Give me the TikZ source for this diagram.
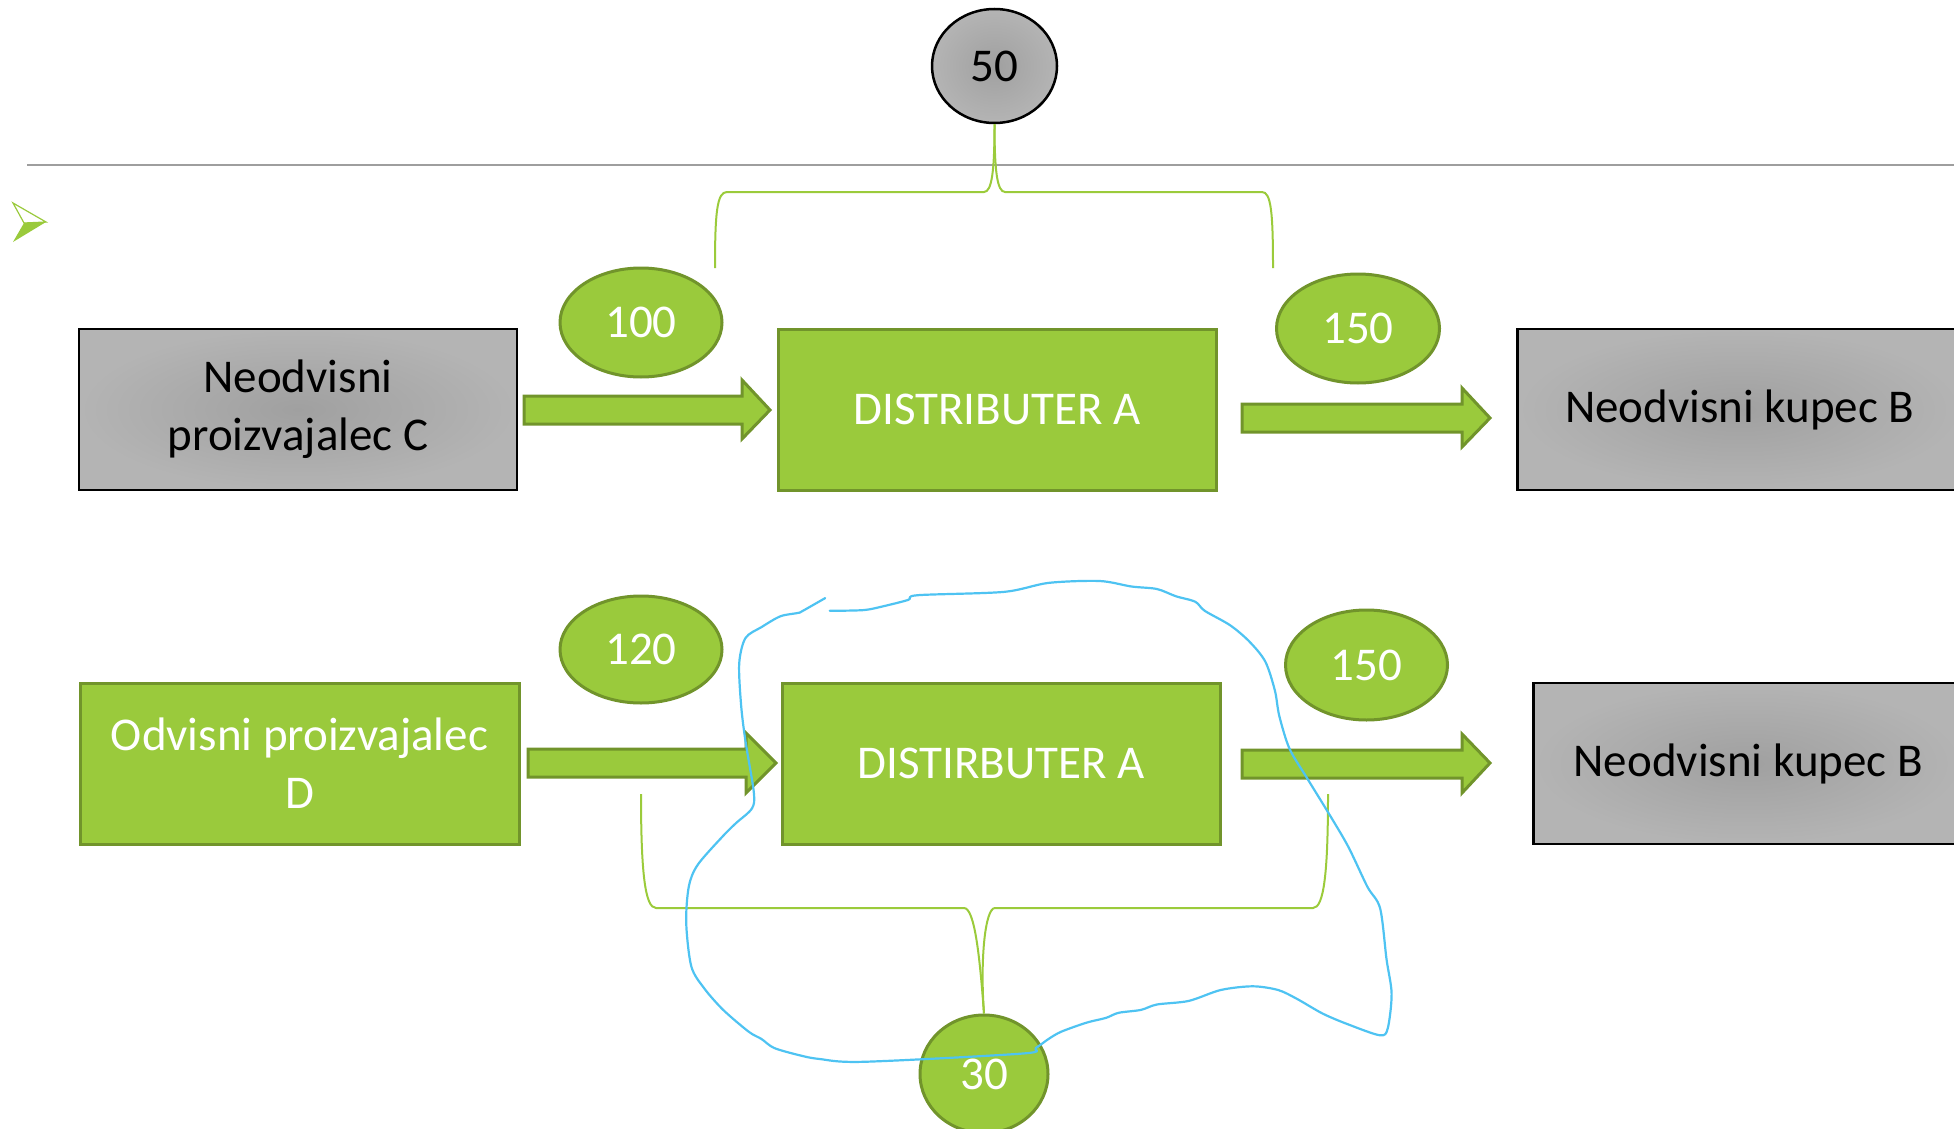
\documentclass[tikz,border=0pt]{standalone}
\usepackage{fontspec}
\setmainfont{Carlito}
\usetikzlibrary{shapes.geometric}
\definecolor{gfill}{HTML}{9ACA3C}
\definecolor{gline}{HTML}{71942B}
\definecolor{brk}{HTML}{9BCB3B}
\definecolor{blueloop}{HTML}{4EC3F2}
\definecolor{grayin}{HTML}{A0A0A0}
\definecolor{grayout}{HTML}{B4B4B4}
\tikzset{
  txt/.style={font=\fontsize{47}{58}\selectfont, align=center},
  graybox/.style={txt, draw=black, line width=2.5pt, inner color=grayin, outer color=grayout, text=black},
  greenbox/.style={txt, draw=gline, fill=gfill, line width=3pt, text=white},
  greenell/.style={ellipse, draw=gline, fill=gfill, line width=3pt, text=white, font=\fontsize{47}{56}\selectfont, inner sep=0pt},
  grayell/.style={ellipse, draw=black, line width=2.5pt, inner color=grayin, outer color=grayout, text=black, font=\fontsize{47}{56}\selectfont, inner sep=0pt},
  blockarrow/.style={draw=gline, fill=gfill, line width=3pt, line join=miter},
  bracket/.style={draw=brk, line width=2pt},
}
\begin{document}
\begin{tikzpicture}[x=1pt, y=-1pt]
\useasboundingbox (0,0) rectangle (1954,1129);
% top rule
\coordinate (hl1) at (27,165);
\coordinate (hl2) at (1954,165);
\draw[color=black!38, line width=2pt] (hl1) -- (hl2);
% bullet
\coordinate (b1) at (13,203);
\coordinate (b2) at (46,222);
\coordinate (b3) at (24,223);
\coordinate (b4) at (13,242);
\draw[draw=gfill, line width=1.2pt, fill=white] (b1) -- (b2) -- (b3) -- cycle;
\fill[gfill] (b3) -- (b2) -- (b4) -- cycle;

% top ellipse 50
\node[grayell, minimum width=125pt, minimum height=114pt] (e50) at (994.5,66) {50};

% top row
\node[graybox, minimum width=438pt, minimum height=161pt] (C) at (298,409.5) {Neodvisni\\proizvajalec C};
\node[greenbox, minimum width=438pt, minimum height=161pt] (DA1) at (997,409.5) {DISTRIBUTER A};
\node[graybox, minimum width=445pt, minimum height=161pt, anchor=west] (B1) at (1516,409.5) {Neodvisni kupec B};
\node[greenell, minimum width=162pt, minimum height=109pt] (e100) at (641,322.5) {100};
\node[greenell, minimum width=163pt, minimum height=109pt] (e150a) at (1358,328.5) {150};

% top arrows
\draw[blockarrow] (524,396) -- (742,396) -- (742,380) -- (770,410) -- (742,439) -- (742,424) -- (524,424) -- cycle;
\draw[blockarrow] (1242,404) -- (1462,404) -- (1462,388) -- (1490,418) -- (1462,447) -- (1462,432) -- (1242,432) -- cycle;

% top bracket
\coordinate (tl) at (715,268);
\coordinate (tr) at (1273,268);
\draw[bracket] (tl) .. controls (715,212) and (717,192) .. (727,192) -- (984,192)
  .. controls (992,192) and (994.5,170) .. (e50.south);
\draw[bracket] (e50.south) .. controls (994.5,170) and (997,192) .. (1005,192) -- (1262,192)
  .. controls (1271,192) and (1273,212) .. (tr);

% bottom row
\node[greenbox, minimum width=439pt, minimum height=161pt] (D) at (299.5,763.5) {Odvisni proizvajalec\\D};
\node[greenbox, minimum width=438pt, minimum height=161pt] (DA2) at (1001,763.5) {DISTIRBUTER A};
\node[graybox, minimum width=430pt, minimum height=161pt, anchor=west] (B2) at (1532,763.5) {Neodvisni kupec B};
\node[greenell, minimum width=162pt, minimum height=107pt] (e120) at (641,649.5) {120};
\node[greenell, minimum width=162pt, minimum height=110pt] (e150b) at (1366.5,665) {150};
\node[greenell, minimum width=128pt, minimum height=118pt] (e30) at (984,1074) {30};

% bottom arrows
\draw[blockarrow] (528,749) -- (746,749) -- (746,733) -- (776,763) -- (746,793) -- (746,777) -- (528,777) -- cycle;
\draw[blockarrow] (1242,750) -- (1462,750) -- (1462,734) -- (1490,763) -- (1462,793) -- (1462,778) -- (1242,778) -- cycle;

% bottom bracket
\coordinate (bl) at (641,794);
\coordinate (br) at (1328,794);
\draw[bracket] (bl) .. controls (641,872) and (645,908) .. (656,908) -- (964,908)
  .. controls (975,908) and (980,960) .. (e30.north);
\draw[bracket] (e30.north) .. controls (980,960) and (985,908) .. (995,908) -- (1313,908)
  .. controls (1324,908) and (1328,872) .. (br);

% freehand loop
\draw[blueloop, line width=2.2pt, line join=round, line cap=round] plot[smooth, tension=0.5] coordinates {
(829.7,610.8) (863.5,610.1) (882.7,606.4) (908.2,599.9) (917.7,595.2) (1003.8,591.9)
(1048.5,582.9) (1099.5,581.0) (1131.4,586.5) (1156.9,589.0) (1176.0,596.3) (1195.2,601.7)
(1204.7,610.8) (1230.2,625.3) (1249.4,641.6) (1265.3,661.6) (1274.9,690.6) (1279.3,716.0)
(1289.5,748.7) (1306.8,777.7) (1329.1,814.0) (1348.2,846.6) (1367.3,886.6) (1380.1,908.3)
(1386.5,959.1) (1391.6,993.6) (1387.8,1028.1) (1380.1,1035.3) (1348.2,1024.4) (1322.7,1013.6)
(1297.2,999.0) (1278.1,990.0) (1252.6,986.3) (1220.7,990.0) (1188.8,1000.9) (1156.9,1004.5)
(1140.9,1009.9) (1118.6,1012.8) (1105.9,1017.9) (1086.7,1022.6) (1061.2,1031.7) (1048.5,1039.0)
(1035.7,1048.0) (1023.0,1053.5) (863.5,1061.8) (818.9,1058.9) (799.7,1055.3) (774.2,1048.0)
(761.5,1039.0) (748.7,1031.7) (723.2,1009.9) (704.1,988.2) (691.3,966.4) (686.2,922.8)
(688.8,886.6) (697.7,864.8) (723.2,835.8) (736.0,823.1) (751.9,808.5) (753.8,792.2)
(745.5,741.4) (741.1,705.1) (739.2,663.4) (745.5,638.0) (761.5,627.1) (780.6,616.2)
(799.7,612.6) (806.1,609.0) (825.2,598.1)};
\end{tikzpicture}
\end{document}
